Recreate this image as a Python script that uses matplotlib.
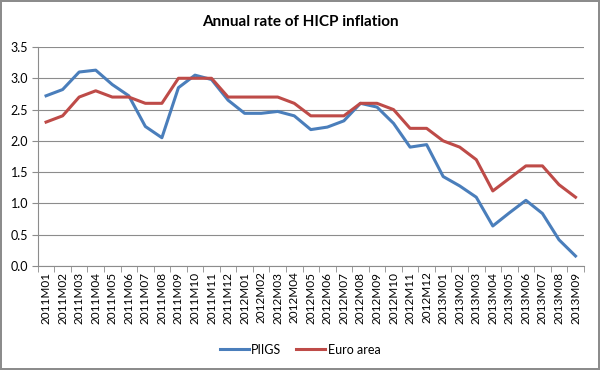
import matplotlib.pyplot as plt
from matplotlib.ticker import FixedLocator

plt.rcParams['font.family'] = ['Lato', 'DejaVu Sans']

# periodos mensuales
months = ['2011M%02d' % m for m in range(1, 13)] + \
         ['2012M%02d' % m for m in range(1, 13)] + \
         ['2013M%02d' % m for m in range(1, 10)]

piigs = [2.72, 2.82, 3.10, 3.13, 2.90, 2.72, 2.23, 2.05, 2.85, 3.05, 2.98, 2.65,
         2.44, 2.44, 2.47, 2.40, 2.18, 2.22, 2.32, 2.60, 2.54, 2.28, 1.90, 1.94,
         1.43, 1.28, 1.10, 0.64, 0.85, 1.05, 0.84, 0.42, 0.16]
euro = [2.3, 2.4, 2.7, 2.8, 2.7, 2.7, 2.6, 2.6, 3.0, 3.0, 3.0, 2.7,
        2.7, 2.7, 2.7, 2.6, 2.4, 2.4, 2.4, 2.6, 2.6, 2.5, 2.2, 2.2,
        2.0, 1.9, 1.7, 1.2, 1.4, 1.6, 1.6, 1.3, 1.1]

fig = plt.figure(figsize=(6, 3.7), dpi=100)
fig.patch.set_edgecolor('#8c8c8c')
fig.patch.set_linewidth(1.5)
ax = fig.add_axes([0.063, 0.281, 0.91, 0.592])

x = range(len(months))
ax.plot(x, piigs, color='#4a7ebb', linewidth=2.2, label='PIIGS')
ax.plot(x, euro, color='#be4b48', linewidth=2.2, label='Euro area')

ax.set_ylim(0, 3.5)
ax.set_yticks([0, 0.5, 1.0, 1.5, 2.0, 2.5, 3.0, 3.5])
ax.set_yticklabels(['%.1f' % v for v in ax.get_yticks()], fontsize=9)
ax.grid(axis='y', color='#8c8c8c', linewidth=0.8)
ax.set_axisbelow(True)

ax.set_xlim(-0.5, len(months) - 0.5)
ax.set_xticks(list(x))
ax.set_xticklabels(months, rotation=90, fontsize=8.5)
ax.xaxis.set_minor_locator(FixedLocator([i - 0.5 for i in range(len(months) + 1)]))
ax.tick_params(axis='x', which='major', length=0, pad=4)
ax.tick_params(axis='x', which='minor', length=4, color='#8c8c8c')
ax.tick_params(axis='y', length=4, color='#8c8c8c', pad=3)

for s in ['top', 'right']:
    ax.spines[s].set_visible(False)
for s in ['left', 'bottom']:
    ax.spines[s].set_color('#8c8c8c')

fig.text(0.5, 0.94, 'Annual rate of HICP inflation', ha='center', va='center',
         fontsize=11, fontweight='bold')
fig.legend(loc='center', bbox_to_anchor=(0.5, 0.055), ncol=2, frameon=False,
           fontsize=9, handlelength=2.3, handletextpad=0.2, columnspacing=1.2)

plt.savefig('out.png', dpi=100)
